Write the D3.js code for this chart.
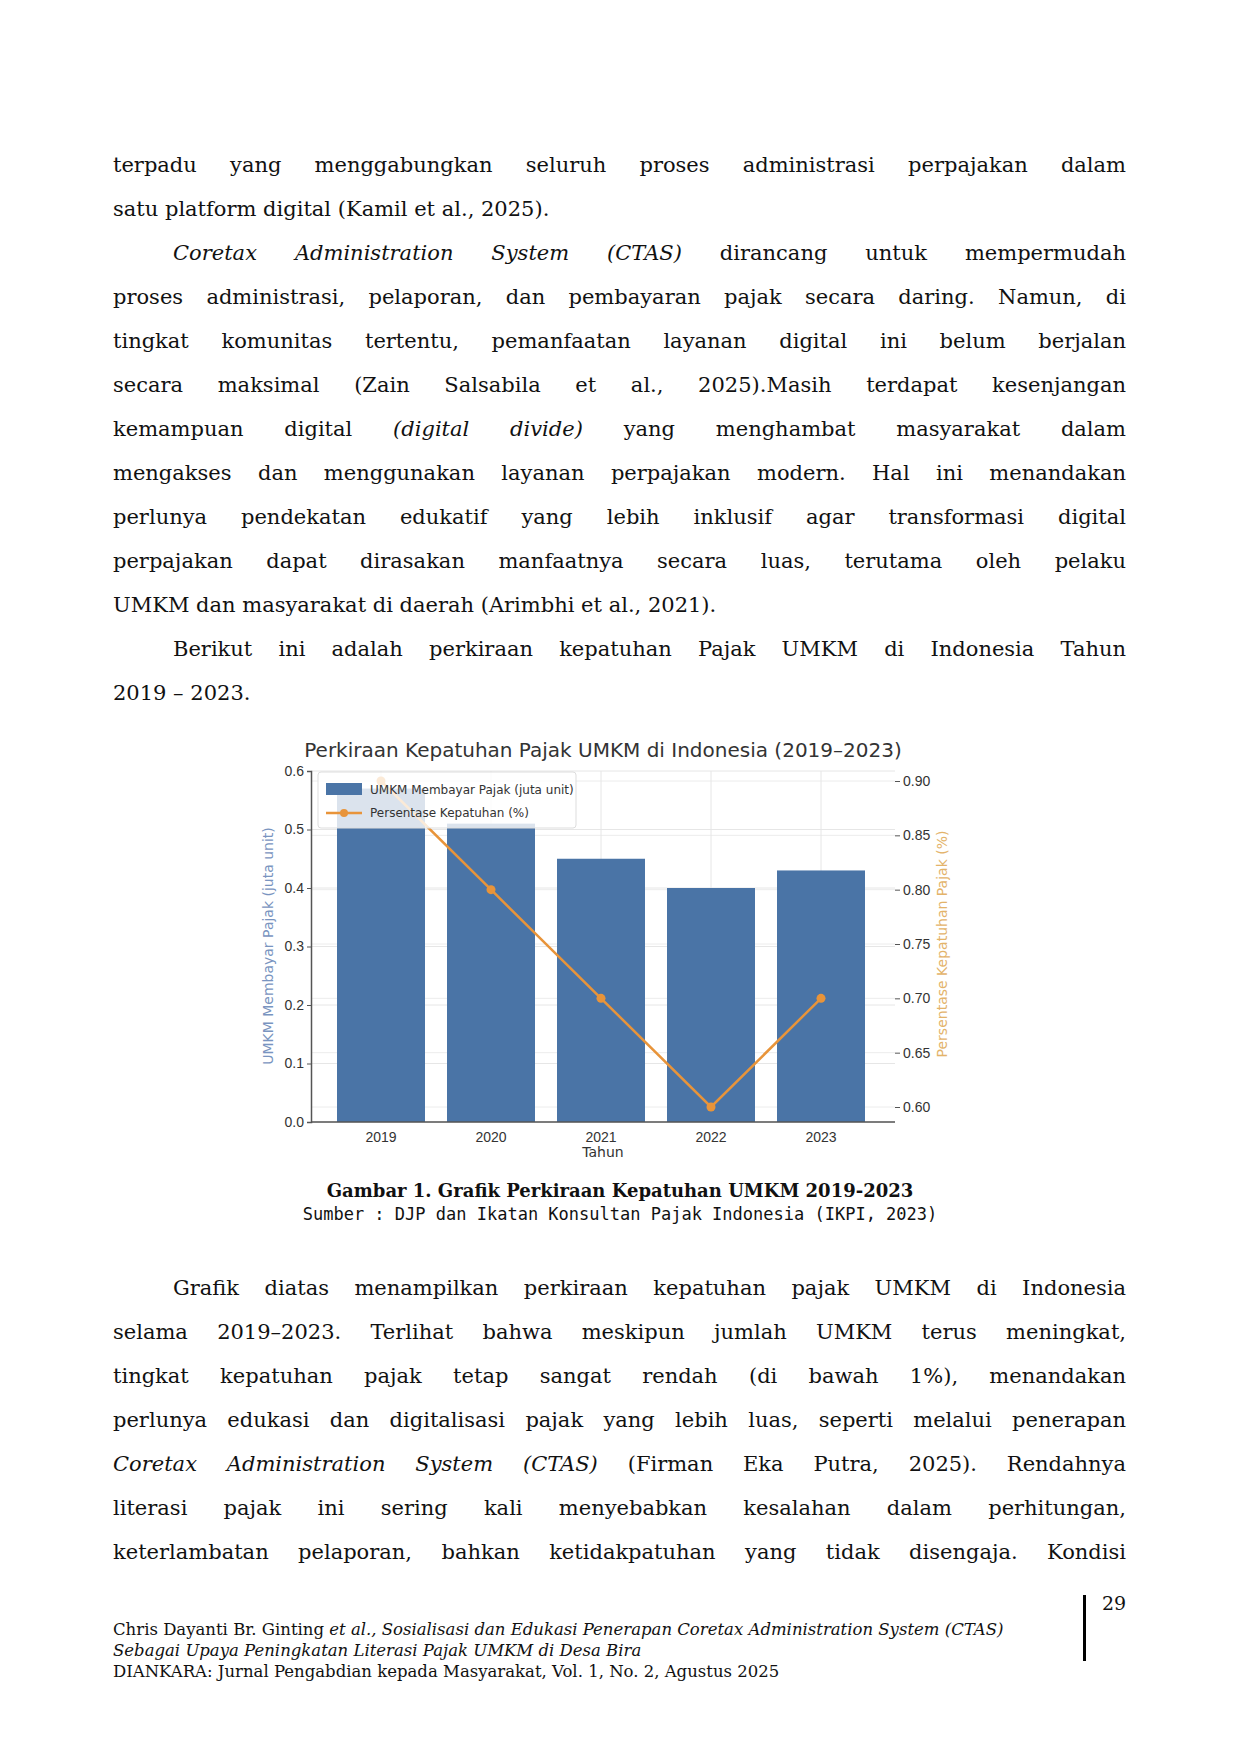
<!DOCTYPE html>
<html><head><meta charset="utf-8">
<script src="https://cdn.jsdelivr.net/npm/d3@7"></script>
<style>
body{margin:0;width:1240px;height:1754px;background:#fff;position:relative;font-family:"DejaVu Serif",serif;color:#111}
.l{position:absolute;left:113px;width:1013px;font-size:21px;line-height:44px;height:44px;white-space:nowrap;text-align:justify;text-align-last:justify}
.l.e{text-align-last:left}
.l.i{left:173px;width:953px}
.c{position:absolute;left:0;width:1240px;text-align:center;font-size:18px}
.f{position:absolute;left:113px;font-size:16.5px;line-height:21px}
#chart{position:absolute;left:0;top:0}
</style></head><body>
<div id="text"></div>
<svg id="chart" width="1240" height="1754"></svg>
<script>
// page text, one line per entry, [text, class]
var bodyTop = [
 ["terpadu yang menggabungkan seluruh proses administrasi perpajakan dalam",""],
 ["satu platform digital (Kamil et al., 2025).","e"],
 ["<i>Coretax Administration System (CTAS)</i> dirancang untuk mempermudah","i"],
 ["proses administrasi, pelaporan, dan pembayaran pajak secara daring. Namun, di",""],
 ["tingkat komunitas tertentu, pemanfaatan layanan digital ini belum berjalan",""],
 ["secara maksimal (Zain Salsabila et al., 2025).Masih terdapat kesenjangan",""],
 ["kemampuan digital <i>(digital divide)</i> yang menghambat masyarakat dalam",""],
 ["mengakses dan menggunakan layanan perpajakan modern. Hal ini menandakan",""],
 ["perlunya pendekatan edukatif yang lebih inklusif agar transformasi digital",""],
 ["perpajakan dapat dirasakan manfaatnya secara luas, terutama oleh pelaku",""],
 ["UMKM dan masyarakat di daerah (Arimbhi et al., 2021).","e"],
 ["Berikut ini adalah perkiraan kepatuhan Pajak UMKM di Indonesia Tahun","i"],
 ["2019 – 2023.","e"]
];
var bodyBottom = [
 ["Grafik diatas menampilkan perkiraan kepatuhan pajak UMKM di Indonesia","i"],
 ["selama 2019–2023. Terlihat bahwa meskipun jumlah UMKM terus meningkat,",""],
 ["tingkat kepatuhan pajak tetap sangat rendah (di bawah 1%), menandakan",""],
 ["perlunya edukasi dan digitalisasi pajak yang lebih luas, seperti melalui penerapan",""],
 ["<i>Coretax Administration System (CTAS)</i> (Firman Eka Putra, 2025). Rendahnya",""],
 ["literasi pajak ini sering kali menyebabkan kesalahan dalam perhitungan,",""],
 ["keterlambatan pelaporan, bahkan ketidakpatuhan yang tidak disengaja. Kondisi",""]
];
var t = d3.select("#text");
function lines(arr, top){
  arr.forEach(function(d,i){
    t.append("div").attr("class","l "+d[1]).style("top",(top+i*44)+"px").html(d[0]);
  });
}
lines(bodyTop,143);
lines(bodyBottom,1266);
t.append("div").attr("class","c").style("top","1180px").style("font-weight","bold")
 .text("Gambar 1. Grafik Perkiraan Kepatuhan UMKM 2019-2023");
t.append("div").attr("class","c").style("top","1204px").style("font-family","'DejaVu Sans Mono',monospace").style("font-size","17px").html("Sumber : DJP dan Ikatan Konsultan Pajak Indonesia (IKPI, 2023)");
t.append("div").attr("class","f").style("top","1619px")
 .html("Chris Dayanti Br. Ginting <i>et al., Sosialisasi dan Edukasi Penerapan Coretax Administration System (CTAS)<br>Sebagai Upaya Peningkatan Literasi Pajak UMKM di Desa Bira</i><br>DIANKARA: Jurnal Pengabdian kepada Masyarakat, Vol. 1, No. 2, Agustus 2025");
t.append("div").style("position","absolute").style("left","1102px").style("top","1592px").style("font-size","19px").text("29");
t.append("div").style("position","absolute").style("left","1083px").style("top","1595px").style("width","3px").style("height","66px").style("background","#000");

// chart data
var years = ["2019","2020","2021","2022","2023"];
var umkm = [0.57, 0.51, 0.45, 0.40, 0.43];
var kepatuhan = [0.90, 0.80, 0.70, 0.60, 0.70];
var leftTicks = [0.0,0.1,0.2,0.3,0.4,0.5,0.6];
var rightTicks = [0.60,0.65,0.70,0.75,0.80,0.85,0.90];

var svg = d3.select("#chart");
var L=311, R=895, T=771, B=1122;
var x = d3.scaleBand().domain(years).range([326, 876]).paddingInner(0.2).paddingOuter(0.1);
var y = d3.scaleLinear().domain([0,0.6]).range([B,T]);
var y2 = d3.scaleLinear().domain([0.6,0.9]).range([1107,781]);
var g = svg.append("g").style("font-family","'DejaVu Sans',sans-serif");

// grid
g.selectAll(".gh").data(leftTicks).enter().append("line")
 .attr("x1",L).attr("x2",R).attr("y1",d=>y(d)).attr("y2",d=>y(d)).attr("stroke","#e6e6e6");
g.selectAll(".gh2").data(rightTicks).enter().append("line")
 .attr("x1",L).attr("x2",R).attr("y1",d=>y2(d)).attr("y2",d=>y2(d)).attr("stroke","#ececec");
g.selectAll(".gv").data(years).enter().append("line")
 .attr("x1",d=>x(d)+x.bandwidth()/2).attr("x2",d=>x(d)+x.bandwidth()/2).attr("y1",T).attr("y2",B).attr("stroke","#e6e6e6");

// bars
g.selectAll(".bar").data(years).enter().append("rect")
 .attr("x",d=>x(d)).attr("width",x.bandwidth())
 .attr("y",(d,i)=>y(umkm[i])).attr("height",(d,i)=>B-y(umkm[i]))
 .attr("fill","#4a74a6");

// line
var line = d3.line().x((d,i)=>x(years[i])+x.bandwidth()/2).y(d=>y2(d));
g.append("path").datum(kepatuhan).attr("d",line).attr("fill","none").attr("stroke","#e8943a").attr("stroke-width",2.5);
g.selectAll(".pt").data(kepatuhan).enter().append("circle")
 .attr("cx",(d,i)=>x(years[i])+x.bandwidth()/2).attr("cy",d=>y2(d)).attr("r",4.5).attr("fill","#e8943a");

// axes
var ax = g.append("g").attr("transform","translate("+L+",0)")
 .call(d3.axisLeft(y).tickValues(leftTicks).tickFormat(d3.format(".1f")).tickSize(4));
ax.select(".domain").attr("stroke","#555").attr("stroke-width",1.5);
var bx = g.append("g").attr("transform","translate(0,"+B+")")
 .call(d3.axisBottom(x).tickSize(0).tickPadding(10));
bx.select(".domain").attr("d","M"+L+",0H"+R).attr("stroke","#555").attr("stroke-width",1.5);
var rx = g.append("g").attr("transform","translate("+R+",0)")
 .call(d3.axisRight(y2).tickValues(rightTicks).tickFormat(d3.format(".2f")).tickSize(5));
rx.select(".domain").remove();
g.selectAll(".tick text").attr("font-size",14).attr("fill","#333");
g.selectAll(".tick line").attr("stroke","#555");

// labels
g.append("text").attr("x",603).attr("y",757).attr("text-anchor","middle").attr("font-size",20).attr("fill","#333")
 .text("Perkiraan Kepatuhan Pajak UMKM di Indonesia (2019–2023)");
g.append("text").attr("x",603).attr("y",1157).attr("text-anchor","middle").attr("font-size",14).attr("fill","#333").text("Tahun");
g.append("text").attr("transform","translate(273,946) rotate(-90)").attr("text-anchor","middle").attr("font-size",14).attr("fill","#7994c0")
 .text("UMKM Membayar Pajak (juta unit)");
g.append("text").attr("transform","translate(947,944) rotate(-90)").attr("text-anchor","middle").attr("font-size",14).attr("fill","#e3b36a")
 .text("Persentase Kepatuhan Pajak (%)");

// legend
var lg = g.append("g").attr("transform","translate(318,772)");
lg.append("rect").attr("width",258).attr("height",56).attr("rx",3).attr("fill","#fff").attr("fill-opacity",0.8).attr("stroke","#ddd");
lg.append("rect").attr("x",8).attr("y",11).attr("width",36).attr("height",12).attr("fill","#4a74a6");
lg.append("line").attr("x1",8).attr("x2",44).attr("y1",41).attr("y2",41).attr("stroke","#e8943a").attr("stroke-width",2.5);
lg.append("circle").attr("cx",26).attr("cy",41).attr("r",4).attr("fill","#e8943a");
lg.append("text").attr("x",52).attr("y",22).attr("font-size",12).attr("fill","#333").text("UMKM Membayar Pajak (juta unit)");
lg.append("text").attr("x",52).attr("y",45).attr("font-size",12).attr("fill","#333").text("Persentase Kepatuhan (%)");
</script>
</body></html>
